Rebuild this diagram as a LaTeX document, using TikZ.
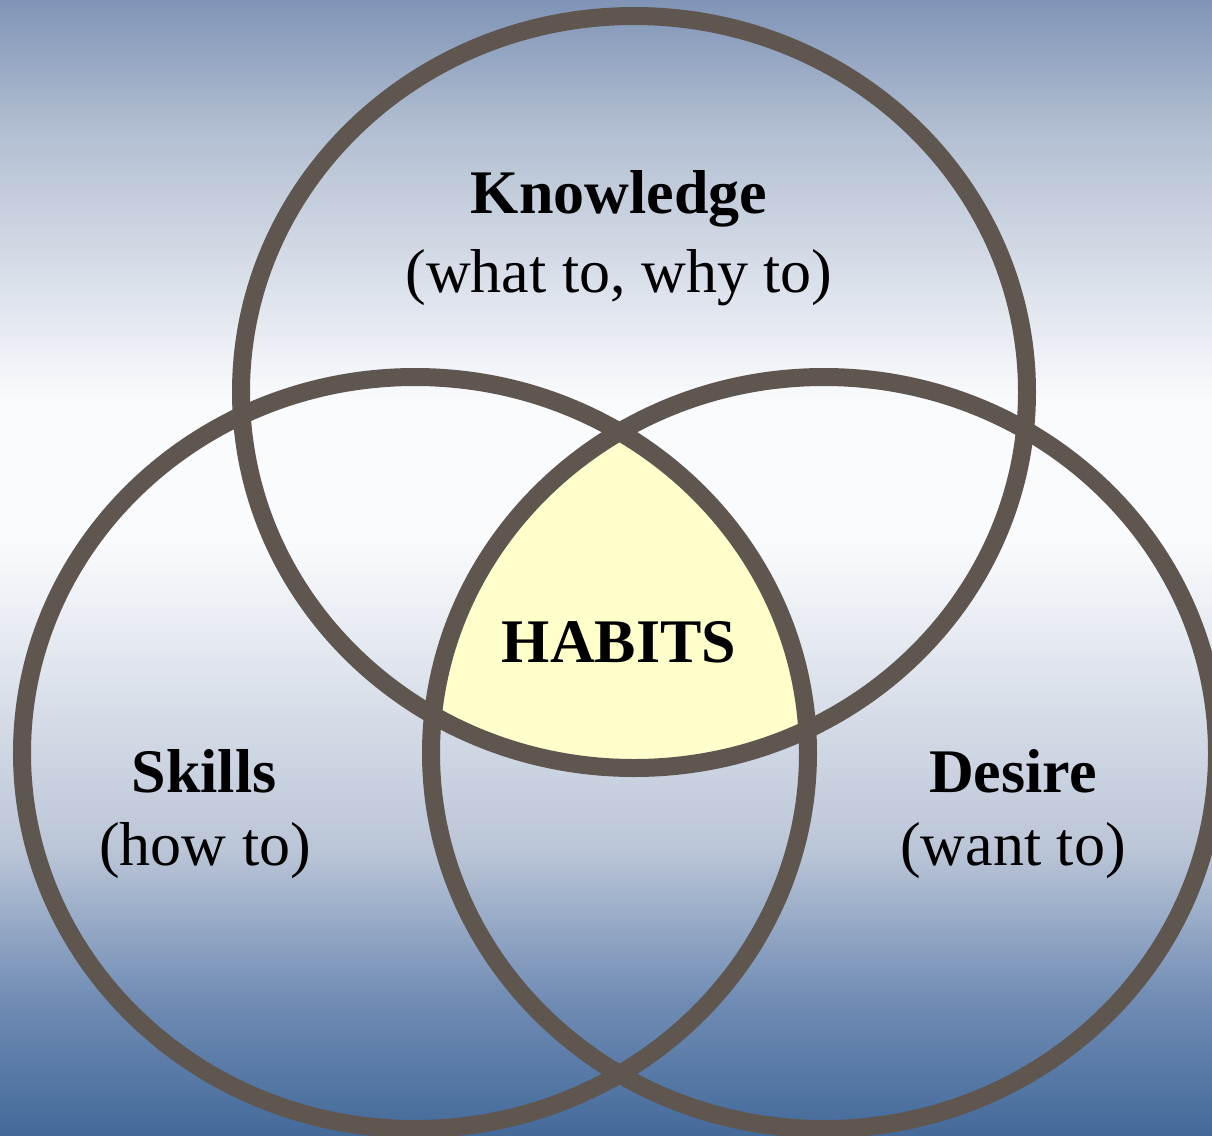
\documentclass[tikz,border=0pt]{standalone}
\usepackage{fontspec}
\setmainfont{Liberation Serif}
\usepackage{tikz}
\usetikzlibrary{backgrounds,calc}
\definecolor{ringcol}{RGB}{95,86,80}
\definecolor{habitfill}{RGB}{255,255,204}
\definecolor{bgtop}{RGB}{128,148,182}
\definecolor{bgA}{RGB}{175,188,208}
\definecolor{bgmid}{RGB}{250,251,253}
\definecolor{bgB}{RGB}{186,197,215}
\definecolor{bgC}{RGB}{112,140,180}
\definecolor{bgbot}{RGB}{68,106,154}
\tikzset{
  ring/.style={draw=ringcol, line width=18pt},
  ringnote/.style={font=\fontsize{62}{74}\selectfont, anchor=base, inner sep=0pt},
  ringtitle/.style={ringnote, font=\fontsize{62}{74}\selectfont\bfseries}
}

\begin{document}
\begin{tikzpicture}[x=1pt,y=-1pt]
\useasboundingbox (0,0) rectangle (1212,1135);
% background
\shade[top color=bgtop, bottom color=bgA] (0,0) rectangle (1212,121);
\shade[top color=bgA, bottom color=bgmid] (0,120) rectangle (1212,401);
\fill[bgmid] (0,400) rectangle (1212,541);
\shade[top color=bgmid, bottom color=bgB] (0,540) rectangle (1212,851);
\shade[top color=bgB, bottom color=bgC] (0,850) rectangle (1212,1001);
\shade[top color=bgC, bottom color=bgbot] (0,1000) rectangle (1212,1135);

\coordinate (know) at (634,392);
\coordinate (skill) at (415,753);
\coordinate (want) at (824,753);

\begin{scope}
\clip (know) ellipse [x radius=393pt, y radius=376pt];
\clip (skill) ellipse [x radius=393pt, y radius=376pt];
\fill[habitfill] (want) ellipse [x radius=393pt, y radius=376pt];
\end{scope}

\foreach \c in {know,skill,want}
  \draw[ring] (\c) ellipse [x radius=393pt, y radius=376pt];

\node[ringtitle] (knowtitle) at (619,213) {Knowledge};
\node[ringnote] (knownote) at (619,292) {(what to, why to)};
\node[ringtitle] (skilltitle) at (204,792) {Skills};
\node[ringnote] (skillnote) at (205,865) {(how to)};
\node[ringtitle] (wanttitle) at (1013,792) {Desire};
\node[ringnote] (wantnote) at (1013,865) {(want to)};
\node[ringtitle] (habits) at (619,662) {HABITS};
\end{tikzpicture}
\end{document}
